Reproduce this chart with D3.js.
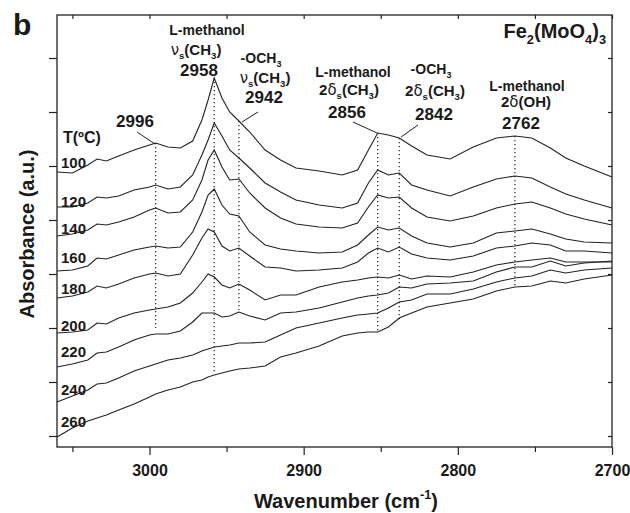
<!DOCTYPE html>
<html>
<head>
<meta charset="utf-8">
<script src="https://cdnjs.cloudflare.com/ajax/libs/d3/7.8.5/d3.min.js"></script>
<style>
body { margin: 0; background: #fff; }
text { font-family: Arial, "Liberation Sans", sans-serif; font-weight: bold; fill: #1a1a1a; }
</style>
</head>
<body>
<div id="chart"></div>
<script>
var wavenumbers = [3060,3050,3040,3034,3028,3020,3010,3000,2996,2988,2980,2972,2966,2962,2958,2953,2948,2942,2935,2925,
                   2915,2905,2890,2875,2865,2858,2852,2845,2838,2830,2820,2805,2790,2775,2763,2752,2740,2730,2718,2700];

var temps = ["100","120","140","160","180","200","220","240","260"];

// absorbance (a.u., offset stacked) for each temperature
var abs100 = [2.75,2.74,2.82,2.88,2.86,2.91,2.97,3.02,3.04,3.00,2.99,3.06,3.27,3.47,3.69,3.49,3.35,3.26,3.15,2.97,
              2.87,2.79,2.76,2.72,2.77,2.97,3.14,3.12,3.09,3.01,2.92,2.88,3.00,3.09,3.11,3.09,2.99,2.89,2.81,2.70];
var abs120 = [2.40,2.40,2.44,2.50,2.49,2.51,2.57,2.60,2.62,2.58,2.60,2.72,2.92,3.07,3.24,3.11,2.97,2.89,2.79,2.64,
              2.55,2.47,2.42,2.39,2.44,2.64,2.77,2.72,2.74,2.62,2.57,2.51,2.60,2.68,2.71,2.69,2.60,2.53,2.47,2.39];
var abs140 = [2.11,2.13,2.17,2.23,2.22,2.25,2.30,2.37,2.39,2.34,2.35,2.47,2.67,2.87,2.97,2.80,2.67,2.68,2.54,2.39,
              2.29,2.23,2.20,2.19,2.24,2.40,2.52,2.49,2.50,2.39,2.30,2.26,2.31,2.39,2.43,2.45,2.39,2.33,2.28,2.22];
var abs160 = [1.76,1.77,1.81,1.89,1.88,1.92,1.97,2.00,2.01,1.99,2.00,2.15,2.35,2.52,2.58,2.42,2.33,2.31,2.15,2.02,
              1.98,1.96,1.94,1.95,2.02,2.12,2.20,2.17,2.19,2.11,2.04,2.00,2.04,2.14,2.16,2.18,2.13,2.08,2.05,2.04];
var abs180 = [1.49,1.51,1.55,1.61,1.59,1.63,1.69,1.73,1.74,1.71,1.73,1.92,2.09,2.18,2.15,2.01,1.96,1.99,1.91,1.80,
              1.79,1.76,1.77,1.79,1.85,1.94,1.99,1.95,2.00,1.93,1.89,1.87,1.91,1.99,2.01,2.04,2.02,1.96,1.96,1.94];
var abs200 = [1.14,1.15,1.17,1.24,1.23,1.29,1.34,1.37,1.38,1.40,1.44,1.54,1.65,1.73,1.70,1.62,1.59,1.63,1.57,1.47,
              1.52,1.52,1.60,1.65,1.67,1.69,1.70,1.69,1.72,1.68,1.71,1.70,1.75,1.82,1.85,1.87,1.89,1.85,1.85,1.85];
var abs220 = [0.80,0.83,0.87,0.94,0.95,1.00,1.07,1.12,1.13,1.13,1.16,1.25,1.34,1.34,1.34,1.30,1.31,1.35,1.31,1.27,
              1.34,1.35,1.39,1.45,1.49,1.51,1.52,1.54,1.60,1.59,1.63,1.64,1.66,1.75,1.80,1.80,1.86,1.81,1.84,1.86];
var abs240 = [0.45,0.51,0.57,0.63,0.64,0.69,0.76,0.81,0.83,0.87,0.89,0.92,0.96,0.98,1.00,1.01,1.02,1.04,1.04,1.05,
              1.12,1.19,1.24,1.29,1.32,1.33,1.34,1.39,1.45,1.47,1.53,1.53,1.58,1.65,1.69,1.71,1.77,1.74,1.77,1.79];
var abs260 = [0.10,0.19,0.26,0.29,0.32,0.37,0.43,0.50,0.53,0.57,0.60,0.65,0.67,0.70,0.72,0.74,0.76,0.78,0.79,0.81,
              0.90,0.94,1.01,1.11,1.14,1.15,1.15,1.20,1.29,1.34,1.40,1.44,1.48,1.56,1.60,1.61,1.66,1.64,1.68,1.72];

// dotted peak markers: where and from/to which absorbance
var peakWn     = [2996, 2958, 2942, 2852, 2838, 2763];
var peakTop    = [3.04, 3.69, 3.26, 3.14, 3.09, 3.11];
var peakBottom = [1.19, 0.75, 1.37, 1.15, 1.25, 1.60];

// axis ticks
var xMajor = [3000, 2900, 2800, 2700];
var xMinor = [3050, 2950, 2850, 2750];
var yTicks = [0.11, 0.65, 1.19, 1.73, 2.27, 2.81, 3.35, 3.89];

var series = [abs100, abs120, abs140, abs160, abs180, abs200, abs220, abs240, abs260];

// layout stuff
var margin = {top: 15, left: 57};
var width = 555, height = 432;
var labelNudge = [-4, 0, -2, -8, -4, -2, -10, -7, -10]; // temp labels sit a bit above their curve

var svg = d3.select("#chart").append("svg")
    .attr("width", 630)
    .attr("height", 513);

var g = svg.append("g").attr("transform", "translate(" + margin.left + "," + margin.top + ")");

var x = d3.scaleLinear().domain([3060, 2700]).range([0, width]);
var y = d3.scaleLinear().domain([0, 4.32]).range([height, 0]);

// axes - bottom with labels, the rest just ticks
var bottom = g.append("g").attr("transform", "translate(0," + height + ")")
    .call(d3.axisBottom(x).tickValues(xMajor).tickSize(8).tickPadding(10).tickFormat(d3.format("d")));
g.append("g").attr("transform", "translate(0," + height + ")")
    .call(d3.axisBottom(x).tickValues(xMinor).tickSize(5).tickFormat(""));
g.append("g").call(d3.axisTop(x).tickValues(xMajor.concat(xMinor)).tickSize(-4).tickFormat(""));
g.append("g").call(d3.axisLeft(y).tickValues(yTicks).tickSize(8).tickFormat(""));
g.append("g").attr("transform", "translate(" + width + ",0)")
    .call(d3.axisRight(y).tickValues(yTicks).tickSize(-4).tickFormat(""));
g.selectAll(".domain").remove();
g.selectAll(".tick line").attr("stroke", "#222").attr("stroke-width", 1.2);
bottom.selectAll(".tick text").style("font-size", "16px").style("font-family", "Arial, sans-serif").style("font-weight", "bold").attr("fill", "#1a1a1a");

// frame
g.append("rect").attr("width", width).attr("height", height)
    .attr("fill", "none").attr("stroke", "#222").attr("stroke-width", 1.3);

// spectra
var line = d3.line()
    .x(function(d, i) { return x(wavenumbers[i]); })
    .y(function(d) { return y(d); });

g.selectAll(".spec")
    .data(series)
    .enter().append("path")
    .attr("class", "spec")
    .attr("d", line)
    .attr("fill", "none")
    .attr("stroke", "#222")
    .attr("stroke-width", 1.1);

// dotted peak lines
g.selectAll(".peak")
    .data(peakWn)
    .enter().append("line")
    .attr("class", "peak")
    .attr("x1", function(d) { return x(d); })
    .attr("x2", function(d) { return x(d); })
    .attr("y1", function(d, i) { return y(peakTop[i]); })
    .attr("y2", function(d, i) { return y(peakBottom[i]); })
    .attr("stroke", "#222")
    .attr("stroke-width", 1.2)
    .attr("stroke-dasharray", "1.3,2.7");

// temperature labels next to the start of each curve
g.selectAll(".tlab")
    .data(series)
    .enter().append("text")
    .attr("class", "tlab")
    .attr("x", 4)
    .attr("y", function(d, i) { return y(d[0]) + labelNudge[i]; })
    .style("font-size", "15px")
    .text(function(d, i) { return temps[i]; });

// little helper for text with sub/superscripts and greek letters
function richText(x0, y0, parts, size, anchor) {
    var t = svg.append("text").attr("x", x0).attr("y", y0)
        .attr("text-anchor", anchor || "middle")
        .style("font-size", size + "px");
    var shift = 0;
    parts.forEach(function(p) {
        var kind = p[1] || "";
        var target = kind == "sub" ? 0.28 : (kind == "sup" ? -0.45 : 0);
        var ts = t.append("tspan").text(p[0]).attr("dy", ((target - shift) * size).toFixed(1));
        shift = target;
        if (kind == "sub" || kind == "sup") ts.style("font-size", (size * 0.64) + "px");
        if (kind == "g") ts.style("font-weight", "normal").style("font-family", "'DejaVu Sans', sans-serif");
    });
    return t;
}

richText(13, 35, [["b"]], 30, "start");
richText(606, 38, [["Fe"], ["2", "sub"], ["(MoO"], ["4", "sub"], [")"], ["3", "sub"]], 20, "end");

richText(207, 35, [["L-methanol"]], 14);
richText(196, 55, [["\u03bd", "g"], ["s", "sub"], ["(CH"], ["3", "sub"], [")"]], 15);
richText(199, 76, [["2958"]], 17);

richText(261, 63, [["-OCH"], ["3", "sub"]], 14);
richText(265, 83, [["\u03bd", "g"], ["s", "sub"], ["(CH"], ["3", "sub"], [")"]], 15);
richText(264, 103, [["2942"]], 17);

richText(135, 127, [["2996"]], 17);
richText(63, 143, [["T(\u00baC)"]], 16, "start");

richText(353, 77, [["L-methanol"]], 14);
richText(349, 95, [["2"], ["\u03b4", "g"], ["s", "sub"], ["(CH"], ["3", "sub"], [")"]], 15);
richText(347, 118, [["2856"]], 17);

richText(431, 74, [["-OCH"], ["3", "sub"]], 14);
richText(435, 96, [["2"], ["\u03b4", "g"], ["s", "sub"], ["(CH"], ["3", "sub"], [")"]], 15);
richText(434, 120, [["2842"]], 17);

richText(527, 91, [["L-methanol"]], 14);
richText(526, 107, [["2"], ["\u03b4", "g"], ["(OH)"]], 15);
richText(521, 129, [["2762"]], 17);

// leader lines from labels to the bands
var leaders = [[137, 132, 155, 144], [258, 112, 242, 122], [353, 122, 377, 133], [418, 125, 401, 137]];
svg.selectAll(".leader")
    .data(leaders)
    .enter().append("line")
    .attr("x1", function(d) { return d[0]; })
    .attr("y1", function(d) { return d[1]; })
    .attr("x2", function(d) { return d[2]; })
    .attr("y2", function(d) { return d[3]; })
    .attr("stroke", "#222")
    .attr("stroke-width", 1);

// axis titles
richText(346, 508, [["Wavenumber (cm"], ["-1", "sup"], [")"]], 20);
richText(0, 0, [["Absorbance (a.u.)"]], 20).attr("transform", "translate(34,234) rotate(-90)");
</script>
</body>
</html>
